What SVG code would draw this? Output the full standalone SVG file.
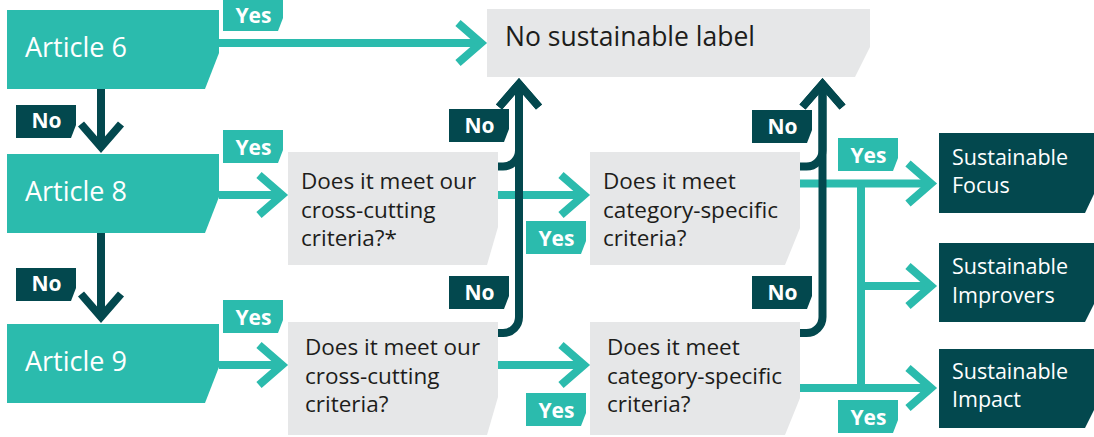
<svg xmlns="http://www.w3.org/2000/svg" width="1094" height="437" viewBox="0 0 1094 437">
<defs>
<style>
.art{fill:#2BBBAD}
.q{fill:#E6E7E8}
.res{fill:#03484E}
.yes{fill:#2BBBAD}
.no{fill:#03484E}
.t{font-family:"Open Sans","Liberation Sans",sans-serif}
.at{font-size:27px;fill:#fff}
.qt{font-size:22.5px;fill:#1d1d1b}
.rt{font-size:21.5px;fill:#fff}
.tag{font-size:21px;font-weight:700;fill:#fff;text-anchor:middle}
.lt{stroke:#2BBBAD;stroke-width:8;fill:none}
.ld{stroke:#03484E;stroke-width:8;fill:none}
</style>
<marker id="aT" markerUnits="userSpaceOnUse" viewBox="-30 -25 40 50" refX="0" refY="0" markerWidth="40" markerHeight="50" orient="auto" overflow="visible"><path d="M-23,-20 L0,0 L-23,20" fill="none" stroke="#2BBBAD" stroke-width="8"/></marker>
<marker id="aD" markerUnits="userSpaceOnUse" viewBox="-30 -25 40 50" refX="0" refY="0" markerWidth="40" markerHeight="50" orient="auto" overflow="visible"><path d="M-23,-20 L0,0 L-23,20" fill="none" stroke="#03484E" stroke-width="8"/></marker>
</defs>

<g id="connectors">
<g class="lt" marker-end="url(#aT)">
<path d="M219,43 H481"/>
<path d="M219,195 H282"/>
<path d="M498,195 H584"/>
<path d="M219,365 H282"/>
<path d="M498,365 H584"/>
<path d="M800,183.5 H931"/>
<path d="M861,286 H931"/>
<path d="M800,388 H931"/>
</g>
<path class="lt" d="M861,183.5 V388"/>
<g class="ld" marker-end="url(#aD)">
<path d="M101,89 V147"/>
<path d="M101,233 V317"/>
<path d="M498,166.5 H503 A16,16 0 0 0 519,150.5 V84"/>
<path d="M498,333 H503 A16,16 0 0 0 519,317 V84"/>
<path d="M800,166.5 H806.5 A16,16 0 0 0 822.5,150.5 V84"/>
<path d="M800,333 H806.5 A16,16 0 0 0 822.5,317 V84"/>
</g>
</g>

<g id="article6"><polygon class="art" points="7,10 219,10 219,53 205,89 7,89"/><text class="t at" x="25" y="57">Article 6</text></g>
<g id="article8"><polygon class="art" points="7,154 219,154 219,197 205,233 7,233"/><text class="t at" x="25" y="200.5">Article 8</text></g>
<g id="article9"><polygon class="art" points="7,324 219,324 219,367 205,403 7,403"/><text class="t at" x="25" y="371">Article 9</text></g>

<g id="no-label"><polygon class="q" points="487,9 870,9 870,47 855,77 487,77"/><text class="t" x="505" y="46" font-size="26.5" fill="#1d1d1b">No sustainable label</text></g>

<g id="q-cross-8"><polygon class="q" points="288,152 498,152 498,227 487,265 288,265"/>
<text class="t qt" x="301" y="189">Does it meet our</text><text class="t qt" x="301" y="217.5">cross-cutting</text><text class="t qt" x="301" y="246">criteria?*</text></g>
<g id="q-cat-8"><polygon class="q" points="590,152 800,152 800,228 785,265 590,265"/>
<text class="t qt" x="603" y="189">Does it meet</text><text class="t qt" x="603" y="217.5">category-specific</text><text class="t qt" x="603" y="246">criteria?</text></g>
<g id="q-cross-9"><polygon class="q" points="288,322 498,322 498,397 487,435 288,435"/>
<text class="t qt" x="305" y="355">Does it meet our</text><text class="t qt" x="305" y="383.5">cross-cutting</text><text class="t qt" x="305" y="412">criteria?</text></g>
<g id="q-cat-9"><polygon class="q" points="590,322 800,322 800,398 785,435 590,435"/>
<text class="t qt" x="607" y="355">Does it meet</text><text class="t qt" x="607" y="383.5">category-specific</text><text class="t qt" x="607" y="412">criteria?</text></g>

<g id="focus"><polygon class="res" points="939,133 1094,133 1094,194 1085,213 939,213"/><text class="t rt" x="952" y="165">Sustainable</text><text class="t rt" x="952" y="193">Focus</text></g>
<g id="improvers"><polygon class="res" points="939,243 1094,243 1094,304 1085,322 939,322"/><text class="t rt" x="952" y="274">Sustainable</text><text class="t rt" x="952" y="303">Improvers</text></g>
<g id="impact"><polygon class="res" points="939,349 1094,349 1094,410 1085,428 939,428"/><text class="t rt" x="952" y="379">Sustainable</text><text class="t rt" x="952" y="407">Impact</text></g>

<g id="yes1"><polygon class="yes" points="223,-2 283,-2 283,18 278,31 223,31"/><text class="t tag" x="253.5" y="23">Yes</text></g>
<g id="yes2"><polygon class="yes" points="223,130 283,130 283,150 278,163 223,163"/><text class="t tag" x="253.5" y="155">Yes</text></g>
<g id="yes3"><polygon class="yes" points="223,300 283,300 283,320 278,333 223,333"/><text class="t tag" x="253.5" y="325">Yes</text></g>
<g id="yes4"><polygon class="yes" points="526,221 586,221 586,241 581,254 526,254"/><text class="t tag" x="556.5" y="246">Yes</text></g>
<g id="yes5"><polygon class="yes" points="526,393 586,393 586,413 581,426 526,426"/><text class="t tag" x="556.5" y="418">Yes</text></g>
<g id="yes6"><polygon class="yes" points="838,138 898,138 898,158 893,171 838,171"/><text class="t tag" x="868.5" y="163">Yes</text></g>
<g id="yes7"><polygon class="yes" points="838,400 898,400 898,420 893,433 838,433"/><text class="t tag" x="868.5" y="425">Yes</text></g>

<g id="no1"><polygon class="no" points="16,105 76,105 76,125 71,138 16,138"/><text class="t tag" x="46.5" y="128">No</text></g>
<g id="no2"><polygon class="no" points="16,268 76,268 76,288 71,301 16,301"/><text class="t tag" x="46.5" y="291">No</text></g>
<g id="no3"><polygon class="no" points="449,109 509,109 509,129 504,142 449,142"/><text class="t tag" x="479.5" y="133">No</text></g>
<g id="no4"><polygon class="no" points="449,276 509,276 509,296 504,309 449,309"/><text class="t tag" x="479.5" y="300">No</text></g>
<g id="no5"><polygon class="no" points="752,110 812,110 812,130 807,143 752,143"/><text class="t tag" x="782.5" y="134">No</text></g>
<g id="no6"><polygon class="no" points="752,276 812,276 812,296 807,309 752,309"/><text class="t tag" x="782.5" y="300">No</text></g>
</svg>
